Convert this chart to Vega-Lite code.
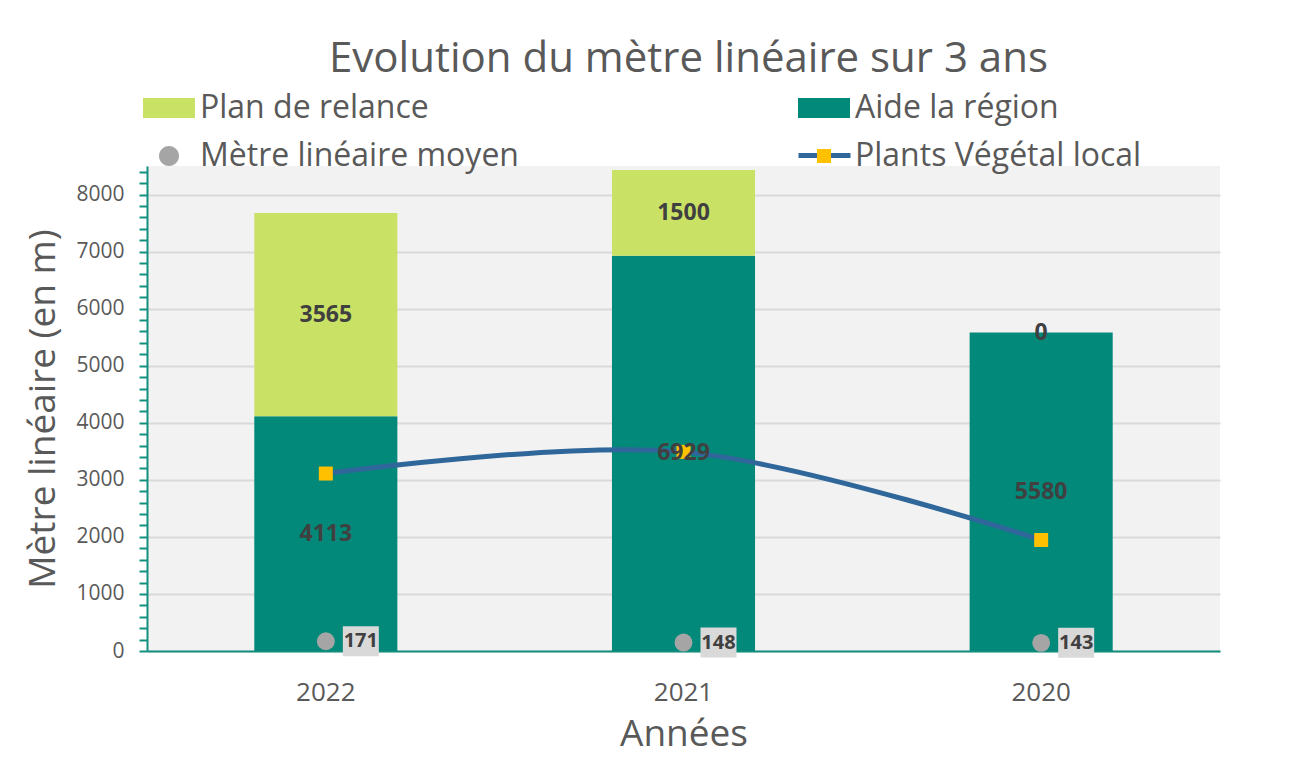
{
  "$schema": "https://vega.github.io/schema/vega-lite/v6.json",
  "width": 1073,
  "height": 485,
  "autosize": {"type": "none"},
  "padding": {"left": 147, "top": 166, "right": 90, "bottom": 118},
  "background": "white",
  "config": {"font": "Open Sans", "view": {"fill": "#F2F2F2", "stroke": null}},
  "title": {"text": "Evolution du mètre linéaire sur 3 ans", "fontSize": 42, "fontWeight": "normal", "color": "#595959", "anchor": "middle", "frame": "group", "offset": 7, "dx": 5},
  "datasets": {
    "bars": [
      {"year": "2022", "series": "Aide la région", "value": 4113},
      {"year": "2022", "series": "Plan de relance", "value": 3565},
      {"year": "2021", "series": "Aide la région", "value": 6929},
      {"year": "2021", "series": "Plan de relance", "value": 1500},
      {"year": "2020", "series": "Aide la région", "value": 5580},
      {"year": "2020", "series": "Plan de relance", "value": 0}
    ],
    "points": [
      {"year": "2022", "moyen": 171, "plants": 3110},
      {"year": "2021", "moyen": 148, "plants": 3490},
      {"year": "2020", "moyen": 143, "plants": 1945}
    ]
  },
  "encoding": {
    "x": {
      "field": "year", "type": "nominal", "sort": ["2022", "2021", "2020"],
      "scale": {"paddingInner": 0.6, "paddingOuter": 0.3},
      "axis": {"title": "Années", "titleFontSize": 37, "titleFontWeight": "normal", "titleColor": "#595959", "titlePadding": 11,
        "labelFontSize": 26, "labelColor": "#595959", "labelAngle": 0, "labelPadding": 28, "ticks": false,
        "domainColor": "#13907D", "domainWidth": 2}
    }
  },
  "layer": [
    {
      "data": {"name": "bars"},
      "mark": {"type": "bar"},
      "encoding": {
        "y": {"field": "value", "type": "quantitative", "stack": "zero",
          "scale": {"domain": [0, 8500], "nice": false},
          "axis": {"title": "Mètre linéaire (en m)", "titleFontSize": 37, "titleFontWeight": "normal", "titleColor": "#595959", "titlePadding": 13,
            "values": [0,200,400,600,800,1000,1200,1400,1600,1800,2000,2200,2400,2600,2800,3000,3200,3400,3600,3800,4000,4200,4400,4600,4800,5000,5200,5400,5600,5800,6000,6200,6400,6600,6800,7000,7200,7400,7600,7800,8000,8200,8400],
            "tickCount": 100,
            "format": "d",
            "labelOverlap": false,
            "labelExpr": "datum.value % 1000 === 0 ? datum.label : ''",
            "labelFontSize": 21, "labelColor": "#595959", "labelPadding": 15,
            "tickSize": 8, "tickWidth": 2, "tickColor": "#13907D",
            "domainColor": "#13907D", "domainWidth": 2,
            "gridColor": "#D9D9D9", "gridWidth": 2,
            "gridOpacity": {"condition": {"test": "datum.value % 1000 === 0", "value": 1}, "value": 0},
            "encode": {"ticks": {"update": {
              "x": {"signal": "datum.value % 1000 === 0 ? 8 : 5"},
              "x2": {"signal": "datum.value % 1000 === 0 ? -8 : -5"}
            }}}
          }
        },
        "order": {"field": "series", "sort": "ascending"},
        "color": {"field": "series", "type": "nominal",
          "scale": {"domain": ["Plan de relance", "Aide la région", "Mètre linéaire moyen", "Plants Végétal local"],
                    "range": ["#C9E265", "#02897A", "#A5A5A5", "#FFC000"]},
          "legend": {"title": null, "orient": "none", "direction": "horizontal", "legendX": 2, "legendY": -78, "columns": 2, "columnPadding": 279, "rowPadding": 12,
            "symbolSize": 1600, "symbolStrokeWidth": 0, "labelFontSize": 32, "labelFont": "Open Sans", "labelColor": "#595959",
            "labelOffset": 11, "labelLimit": 600, "padding": 0, "zindex": 2,
            "encode": {"symbols": {"update": {"shape": {"signal": "datum.value === 'Mètre linéaire moyen' ? 'M-0.5,0A0.5,0.5,0,1,1,0.5,0A0.5,0.5,0,1,1,-0.5,0Z' : datum.value === 'Plants Végétal local' ? 'M-0.35,-0.35H0.35V0.35H-0.35Z' : 'M-1.3,-0.5H1.3V0.5H-1.3Z'"}}}}
          }
        }
      }
    },
    {
      "data": {"name": "points"},
      "mark": {"type": "line", "interpolate": "catmull-rom", "strokeWidth": 5},
      "encoding": {
        "y": {"field": "plants", "type": "quantitative"},
        "stroke": {"datum": "Plants Végétal local", "scale": {"range": ["#30679A"]},
          "legend": {"title": null, "orient": "none", "legendX": 655, "legendY": -33, "symbolType": "M-1.3,0H1.3", "symbolSize": 1600,
            "symbolStrokeWidth": 5, "labelFontSize": 32, "labelExpr": "''", "labelOffset": 11, "padding": 0, "zindex": 1}
        }
      }
    },
    {
      "data": {"name": "points"},
      "mark": {"type": "point", "shape": "square", "filled": true, "size": 196, "opacity": 1},
      "encoding": {
        "y": {"field": "plants", "type": "quantitative"},
        "color": {"datum": "Plants Végétal local"}
      }
    },
    {
      "data": {"name": "bars"},
      "transform": [
        {"stack": "value", "groupby": ["year"], "sort": [{"field": "series", "order": "ascending"}], "as": ["v0", "v1"]},
        {"calculate": "(datum.v0 + datum.v1) / 2", "as": "mid"}
      ],
      "mark": {"type": "text", "fontSize": 23, "fontWeight": "bold", "color": "#404040"},
      "encoding": {
        "y": {"field": "mid", "type": "quantitative"},
        "text": {"field": "value", "type": "quantitative", "format": "d"}
      }
    },
    {
      "data": {"name": "points"},
      "mark": {"type": "point", "shape": "circle", "filled": true, "size": 320, "opacity": 1},
      "encoding": {
        "y": {"field": "moyen", "type": "quantitative"},
        "color": {"datum": "Mètre linéaire moyen"}
      }
    },
    {
      "data": {"name": "points"},
      "mark": {"type": "point", "shape": "M-1.2,-1H1.2V1H-1.2Z", "filled": true, "size": 900, "color": "#D9D9D9", "opacity": 1, "xOffset": 35},
      "encoding": {
        "y": {"field": "moyen", "type": "quantitative"}
      }
    },
    {
      "data": {"name": "points"},
      "mark": {"type": "text", "fontSize": 20, "fontWeight": "bold", "color": "#404040", "dx": 35},
      "encoding": {
        "y": {"field": "moyen", "type": "quantitative"},
        "text": {"field": "moyen", "type": "quantitative", "format": "d"}
      }
    }
  ]
}
